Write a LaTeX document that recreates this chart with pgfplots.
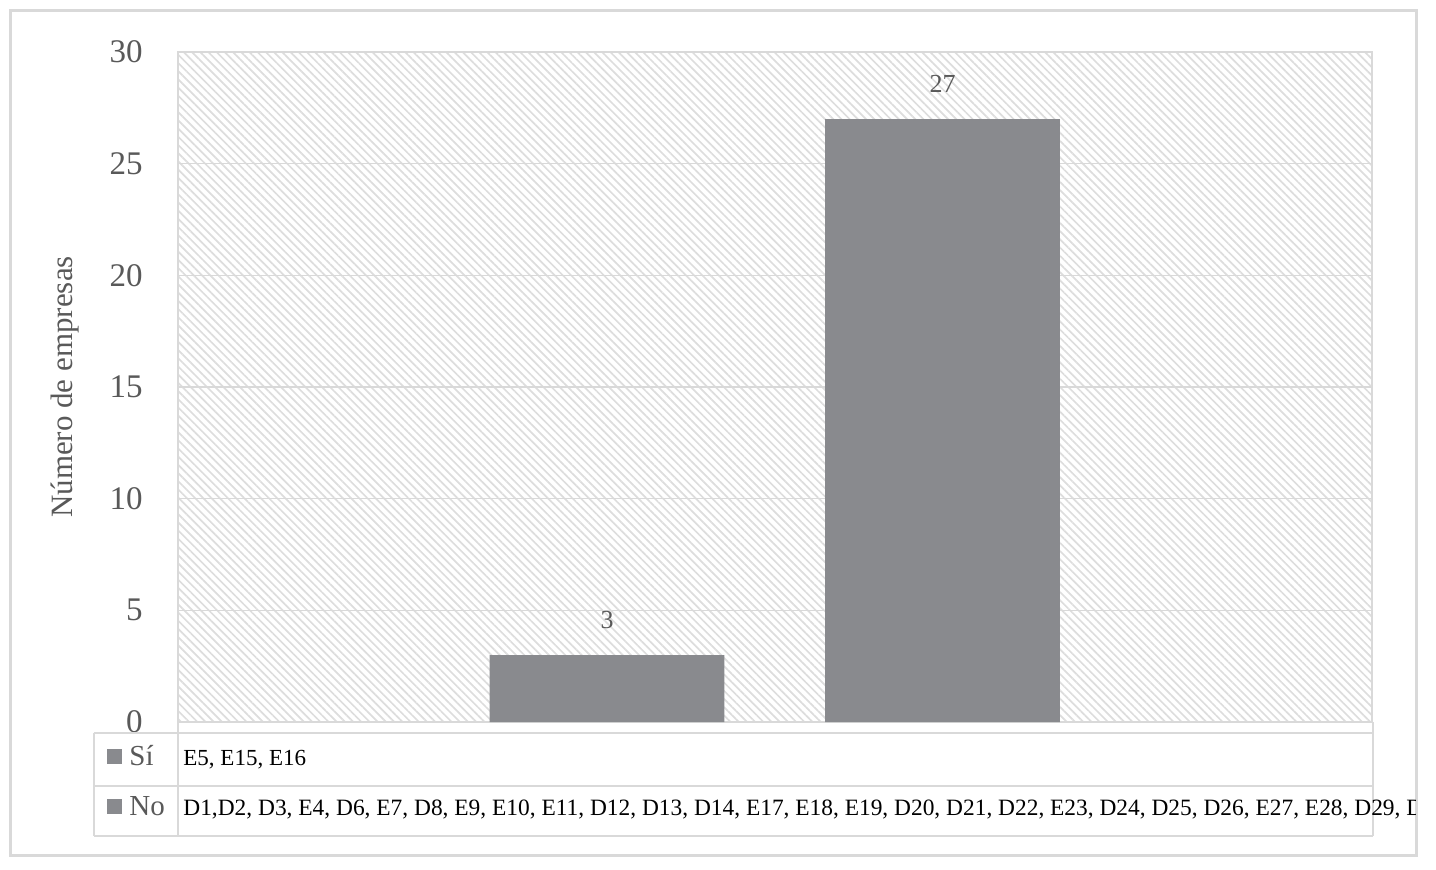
\documentclass[border=0pt]{standalone}
\usepackage{fontspec}
\setmainfont{Liberation Serif}
\usepackage{pgfplots}
\pgfplotsset{compat=1.18}
\usetikzlibrary{patterns.meta, calc}

\definecolor{bargray}{RGB}{137,138,142}
\definecolor{linegray}{RGB}{217,217,217}
\definecolor{hatchgray}{RGB}{221,221,221}
\definecolor{textgray}{RGB}{89,89,89}

\begin{document}
\begin{tikzpicture}
\begin{axis}[
  name=ax,
  scale only axis,
  width=597pt, height=335pt,
  xmin=-1.2787, xmax=2.2802,
  ymin=0, ymax=30,
  ytick={0,5,...,30},
  xtick=\empty,
  ymajorgrids,
  grid style={linegray, line width=0.75pt},
  axis line style={linegray, line width=0.75pt},
  major tick length=0pt,
  /pgf/number format/assume math mode=true,
  yticklabel style={font=\fontsize{16.5}{16.5}\selectfont, text=textgray, inner xsep=0pt, xshift=-17.5pt},
  ylabel={Número de empresas},
  every axis y label/.style={at={(axis description cs:0,0.5)}, rotate=90, anchor=center,
    yshift=56.5pt, font=\fontsize{15.5}{15.5}\selectfont, text=textgray},
  axis background/.style={pattern={Lines[angle=-45, distance=2.9pt, line width=0.85pt]}, pattern color=hatchgray},
  ybar, bar width=0.7,
  nodes near coords,
  every node near coord/.append style={anchor=center, yshift=17.5pt,
    font=\fontsize{13}{13}\selectfont, text=textgray},
]
\addplot[fill=bargray, draw=none] coordinates {(0,3) (1,27)};
\end{axis}

% data table below the plot, in pixel units of the reference
\begin{scope}[shift={($(ax.south west)+(-89pt,361pt)$)}, x=0.5pt, y=-0.5pt]
  \path[use as bounding box] (0,0) rectangle (1436,869);
  \draw[linegray, line width=1.5pt] (10.5,10.5) rectangle (1416.5,855.5);
  \begin{scope}[linegray, line width=0.75pt]
    \draw (94,733) -- (1373,733);
    \draw (94,786) -- (1373,786);
    \draw (94,836) -- (1373,836);
    \draw (94,733) -- (94,836);
    \draw (178,722) -- (178,836);
    \draw (1373,722) -- (1373,836);
  \end{scope}
  \fill[bargray] (107,749) rectangle (122,764);
  \fill[bargray] (107,799) rectangle (122,814);
  \node[anchor=base west, inner sep=0pt, text=textgray, font=\fontsize{14.5}{14.5}\selectfont] at (129,765) {Sí};
  \node[anchor=base west, inner sep=0pt, text=textgray, font=\fontsize{14.5}{14.5}\selectfont] at (129,815) {No};
  \node[anchor=base west, inner sep=0pt, font=\fontsize{11.5}{11.5}\selectfont] at (183,765) {E5, E15, E16};
  \begin{scope}
    \clip (178,787) rectangle (1415,835);
    \node[anchor=base west, inner sep=0pt, font=\fontsize{11.7}{11.7}\selectfont] at (183,815)
      {D1,D2, D3, E4, D6, E7, D8, E9, E10, E11, D12, D13, D14, E17, E18, E19, D20, D21, D22, E23, D24, D25, D26, E27, E28, D29, D30};
  \end{scope}
\end{scope}
\end{tikzpicture}
\end{document}
